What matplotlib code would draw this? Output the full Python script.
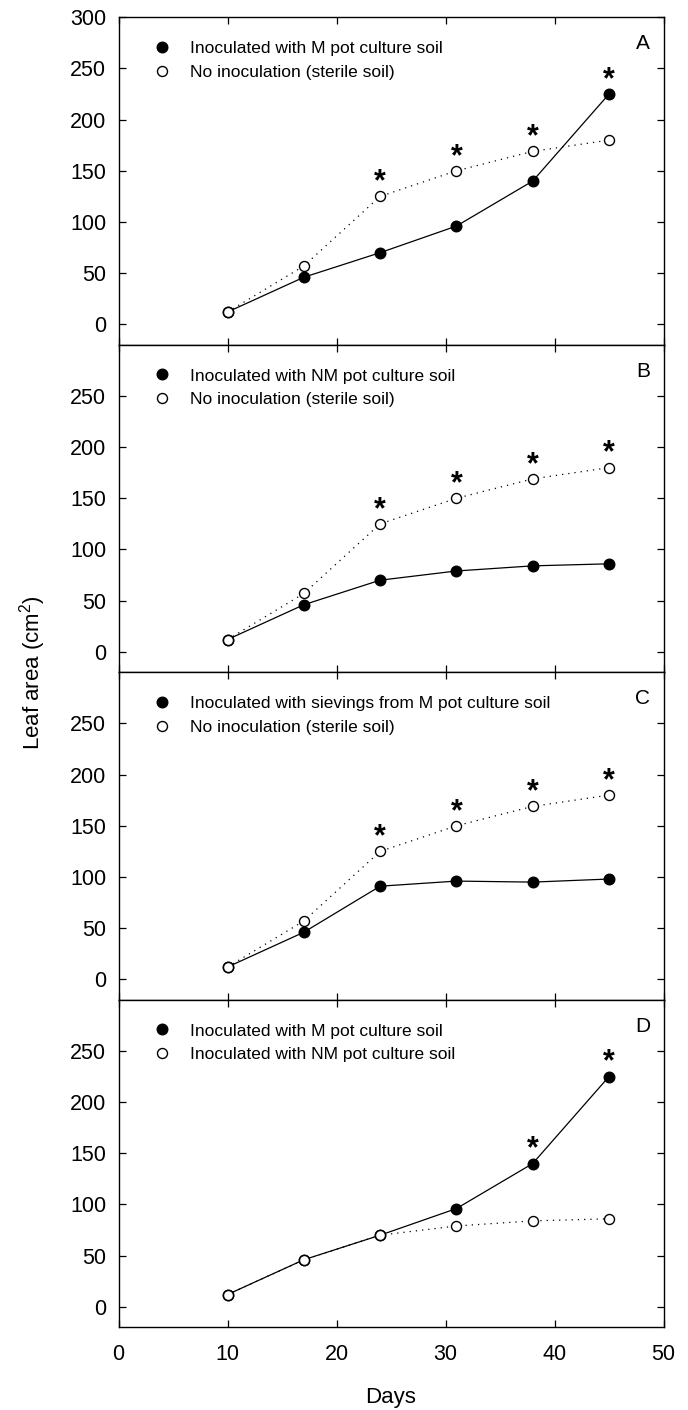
import numpy as np
import matplotlib
matplotlib.use('Agg')
import matplotlib.pyplot as plt
from matplotlib.lines import Line2D

plt.rcParams['font.family'] = ['Liberation Sans', 'DejaVu Sans']
plt.rcParams['mathtext.fontset'] = 'custom'
plt.rcParams['mathtext.rm'] = 'Liberation Sans'
plt.rcParams['mathtext.default'] = 'regular'

days = [10, 17, 24, 31, 38, 45]

# leaf area (cm2)
m_soil = [12, 46, 70, 96, 140, 225]
nm_soil = [12, 46, 70, 79, 84, 86]
sievings = [12, 46, 91, 96, 95, 98]
sterile = [12, 57, 125, 150, 169, 180]

panel_letters = ['A', 'B', 'C', 'D']
filled_series = [m_soil, nm_soil, sievings, m_soil]
open_series = [sterile, sterile, sterile, nm_soil]
filled_labels = ['Inoculated with M pot culture soil',
                 'Inoculated with NM pot culture soil',
                 'Inoculated with sievings from M pot culture soil',
                 'Inoculated with M pot culture soil']
open_labels = ['No inoculation (sterile soil)',
               'No inoculation (sterile soil)',
               'No inoculation (sterile soil)',
               'Inoculated with NM pot culture soil']
# days marked with a significance star in each panel
star_days = [[24, 31, 38, 45], [24, 31, 38, 45], [24, 31, 38, 45], [38, 45]]

fig = plt.figure(figsize=(6.88, 14.10), dpi=100)
left, right = 118.5 / 688, 663.5 / 688
top, bottom = 1 - 17.3 / 1410, 1 - 1327.3 / 1410
h = (top - bottom) / 4

for i in range(4):
    ax = fig.add_axes([left, top - (i + 1) * h, right - left, h])
    f = filled_series[i]
    o = open_series[i]
    ax.plot(days, f, color='black', lw=0.9, marker='o', ms=7.6,
            mfc='black', mec='black', zorder=3)
    ax.plot(days, o, color='black', lw=0.9, ls=(0, (1, 4)), marker='o', ms=7.2,
            mfc='white', mec='black', mew=1.0, zorder=4)

    for d in star_days[i]:
        k = days.index(d)
        ax.annotate('*', xy=(d, max(f[k], o[k])), xytext=(0, 10),
                    textcoords='offset points', ha='center', va='center',
                    fontsize=22, fontweight='bold', zorder=5)

    handles = [Line2D([], [], ls='none', marker='o', ms=7.6, mfc='black', mec='black'),
               Line2D([], [], ls='none', marker='o', ms=7.2, mfc='white', mec='black', mew=1.0)]
    ax.legend(handles, [filled_labels[i], open_labels[i]], loc='upper left',
              bbox_to_anchor=(0.0633, 0.928), frameon=False, fontsize=12.5,
              handlelength=1.0, handletextpad=1.15, borderpad=0, borderaxespad=0,
              labelspacing=0.5)
    ax.text(0.962, 0.92, panel_letters[i], transform=ax.transAxes,
            ha='center', va='center', fontsize=15)

    ax.set_xlim(0, 50)
    ax.set_ylim(-20, 300)
    ax.set_xticks([0, 10, 20, 30, 40, 50])
    if i == 0:
        ax.set_yticks([0, 50, 100, 150, 200, 250, 300])
    else:
        ax.set_yticks([0, 50, 100, 150, 200, 250])
    ax.tick_params(direction='in', top=True, right=True, length=5, width=0.9,
                   labelsize=15.5)
    ax.tick_params(axis='y', pad=9)
    ax.tick_params(axis='x', pad=12)
    if i < 3:
        ax.tick_params(labelbottom=False)
    for s in ax.spines.values():
        s.set_linewidth(1.0)

fig.text(0.048, (top + bottom) / 2, 'Leaf area (cm$^2$)', rotation=90,
         ha='center', va='center', fontsize=16)
fig.text((left + right) / 2, 1 - 1398 / 1410, 'Days', ha='center', va='center',
         fontsize=16)

fig.savefig('out.png', dpi=100)
